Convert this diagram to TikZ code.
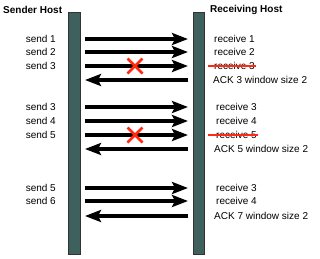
\documentclass[tikz,border=0pt]{standalone}
\usepackage{fontspec}
\setmainfont{Liberation Sans}
\usetikzlibrary{arrows.meta}
\definecolor{barfill}{HTML}{3F615E}
\definecolor{xred}{HTML}{FF2A10}
\begin{document}
\begin{tikzpicture}[x=1pt,y=-1pt,
  hostbar/.style={draw=black!80,line width=0.6pt,fill=barfill},
  msg/.style={line width=3.2pt,-{Stealth[length=16pt,width=12pt,inset=3pt]}},
  lft/.style={anchor=east,font=\fontsize{10}{12}\selectfont,inner sep=0pt},
  rgt/.style={anchor=west,font=\fontsize{10}{12}\selectfont,inner sep=0pt},
  head/.style={font=\bfseries\fontsize{10}{12}\selectfont,inner sep=0pt},
  lostx/.style={draw=xred,line width=2.8pt},
  strike/.style={draw=xred,line width=1.3pt}]
\useasboundingbox (0,0) rectangle (320,258);
\fill[white] (0,0) rectangle (320,258);
% hosts
\node[head,anchor=west] (sh) at (3,10) {Sender Host};
\node[head,anchor=west] (rh) at (210,10) {Receiving Host};
\draw[hostbar] (68,12) rectangle (80,254);
\draw[hostbar] (193,12) rectangle (204,254);
% endpoints
\foreach \n/\y in {a/39,b/52,c/66,d/80,e/107,f/121,g/135,h/149,i/188,j/201,k/216}{
  \coordinate (L\n) at (85,\y);
  \coordinate (R\n) at (188,\y);
}
% group 1
\node[lft] (s1) at (56,39) {send 1};
\node[lft] (s2) at (56,52) {send 2};
\node[lft] (s3) at (56,66) {send 3};
\draw[msg] (La) -- (Ra);
\draw[msg] (Lb) -- (Rb);
\draw[msg] (Lc) -- (Rc);
\draw[msg] (Rd) -- (Ld);
\node[rgt] (r1) at (214,39) {receive 1};
\node[rgt] (r2) at (214,52) {receive 2};
\node[rgt] (r3) at (214,66) {receive 3};
\node[rgt] (a3) at (213,80) {ACK 3 window size 2};
\coordinate (x1) at (135,66);
\draw[lostx] ([shift={(-7.5,-7.5)}]x1) -- ([shift={(7.5,7.5)}]x1) ([shift={(-7.5,7.5)}]x1) -- ([shift={(7.5,-7.5)}]x1);
\draw[strike] ([xshift=-6pt]r3.west) -- ([xshift=1pt]r3.east);
% group 2
\node[lft] (s3b) at (56,107) {send 3};
\node[lft] (s4) at (56,121) {send 4};
\node[lft] (s5) at (56,135) {send 5};
\draw[msg] (Le) -- (Re);
\draw[msg] (Lf) -- (Rf);
\draw[msg] (Lg) -- (Rg);
\draw[msg] (Rh) -- (Lh);
\node[rgt] (r3b) at (216,107) {receive 3};
\node[rgt] (r4) at (216,121) {receive 4};
\node[rgt] (r5) at (216,135) {receive 5};
\node[rgt] (a5) at (214,149) {ACK 5 window size 2};
\coordinate (x2) at (135,135);
\draw[lostx] ([shift={(-7.5,-7.5)}]x2) -- ([shift={(7.5,7.5)}]x2) ([shift={(-7.5,7.5)}]x2) -- ([shift={(7.5,-7.5)}]x2);
\draw[strike] ([xshift=-8pt]r5.west) -- ([xshift=1pt]r5.east);
% group 3
\node[lft] (s5b) at (56,188) {send 5};
\node[lft] (s6) at (56,201) {send 6};
\draw[msg] (Li) -- (Ri);
\draw[msg] (Lj) -- (Rj);
\draw[msg] (Rk) -- (Lk);
\node[rgt] (r3c) at (216,188) {receive 3};
\node[rgt] (r4c) at (216,201) {receive 4};
\node[rgt] (a7) at (214,216) {ACK 7 window size 2};
\end{tikzpicture}
\end{document}
